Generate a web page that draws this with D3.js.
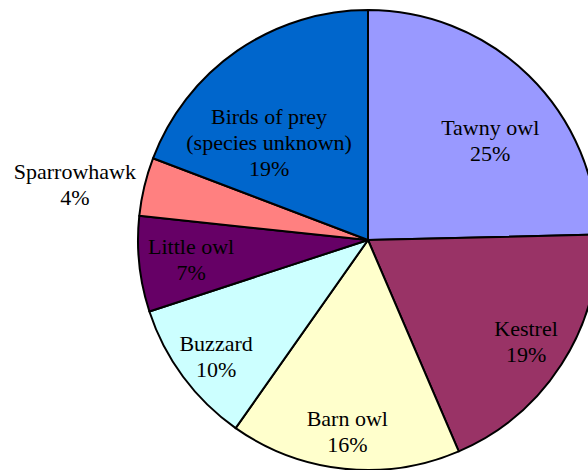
<!DOCTYPE html>
<html>
<head>
<meta charset="utf-8">
<script src="https://cdn.jsdelivr.net/npm/d3@7"></script>
<style>
	body { margin: 0; background: #fff; }
	svg { display: block; }
	text { font-family: "Liberation Serif", "Times New Roman", serif; font-size: 22px; fill: #000; }
</style>
</head>
<body>
<div id="chart"></div>
<script>
// data
var categories = ["Tawny owl", "Kestrel", "Barn owl", "Buzzard", "Little owl", "Sparrowhawk", "Birds of prey (species unknown)"];
var labelLines = [["Tawny owl"], ["Kestrel"], ["Barn owl"], ["Buzzard"], ["Little owl"], ["Sparrowhawk"], ["Birds of prey", "(species unknown)"]];
var values = [24.6, 18.9, 16.2, 10.2, 6.7, 4.1, 19.2];
var colors = ["#9999ff", "#993366", "#ffffcc", "#ccffff", "#660066", "#ff8080", "#0066cc"];

// settings
var svgWidth = 588;
var svgHeight = 470;
var cx = 368;
var cy = 240;
var radius = 230;
var lineHeight = 26;
// label placement: distance from centre and angle nudge (degrees) per slice
var labelRadius = [153, 192, 200, 196, 179, 297, 134];
var labelNudge = [8.7, 1.9, 0, -2.7, -2.8, -4.2, -13];

var svg = d3.select("#chart")
	.append("svg")
	.attr("width", svgWidth)
	.attr("height", svgHeight);

var chartGroup = svg.append("g")
	.attr("transform", `translate(${cx}, ${cy})`);

var pie = d3.pie().sort(null).value(d => d);
var arcs = pie(values);
var total = d3.sum(values);

var arc = d3.arc().innerRadius(0).outerRadius(radius);

// slices
chartGroup.selectAll("path")
	.data(arcs)
	.enter()
	.append("path")
	.attr("d", arc)
	.attr("fill", (d, i) => colors[i])
	.attr("stroke", "#000")
	.attr("stroke-width", 2)
	.attr("stroke-linejoin", "round");

// labels
var labels = chartGroup.selectAll("text.label")
	.data(arcs)
	.enter()
	.append("text")
	.attr("class", "label")
	.attr("text-anchor", "middle")
	.attr("transform", function (d, i) {
		var a = (d.startAngle + d.endAngle) / 2 + labelNudge[i] * Math.PI / 180;
		var r = labelRadius[i];
		return `translate(${r * Math.sin(a)}, ${-r * Math.cos(a)})`;
	});

labels.each(function (d, i) {
	var lines = labelLines[i].concat([Math.round(d.value / total * 100) + "%"]);
	var n = lines.length;
	d3.select(this).selectAll("tspan")
		.data(lines)
		.enter()
		.append("tspan")
		.attr("x", 0)
		.attr("y", (t, j) => (j - (n - 1) / 2) * lineHeight)
		.text(t => t);
});
</script>
</body>
</html>
